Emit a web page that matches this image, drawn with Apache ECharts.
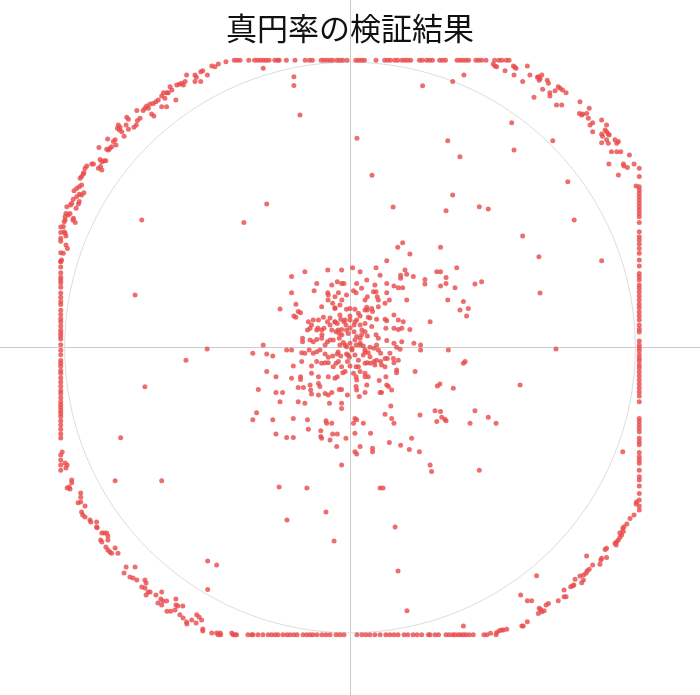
<!DOCTYPE html>
<html><head><meta charset="utf-8">
<script src="https://cdn.jsdelivr.net/npm/echarts@6/dist/echarts.min.js"></script>
<style>html,body{margin:0;padding:0;background:#fff}#c{width:700px;height:695px}</style>
</head><body><div id="c"></div>
<script>
const titleText = '真円率の検証結果';
const axisLimit = 1.21;
const circleRadius = 0.99;

// points clipped on the top edge (y = 1)
const topEdgeX = [-0.40,-0.39,-0.38,-0.35,-0.33,-0.32,-0.31,-0.30,-0.29,-0.28,-0.26,-0.25,-0.245,-0.22,-0.19,-0.155,-0.14,-0.13,-0.10,-0.09,-0.08,-0.07,-0.06,-0.045,-0.035,-0.025,-0.01,0.02,0.03,0.04,0.05,0.09,0.12,0.13,0.14,0.155,0.165,0.18,0.19,0.20,0.21,0.24,0.25,0.265,0.275,0.285,0.31,0.32,0.33,0.37,0.38,0.39,0.40,0.41,0.435,0.445,0.455,0.47,0.50,0.515,0.525,0.54,0.55];
// points clipped on the bottom edge (y = -1)
const bottomEdgeX = [-0.353,-0.340,-0.335,-0.318,-0.301,-0.283,-0.271,-0.259,-0.249,-0.232,-0.218,-0.207,-0.194,-0.183,-0.162,-0.149,-0.138,-0.128,-0.114,-0.097,-0.083,-0.069,-0.048,-0.035,-0.021,0.024,0.041,0.055,0.069,0.086,0.104,0.124,0.138,0.152,0.166,0.187,0.2,0.218,0.232,0.248,0.271,0.277,0.294,0.306,0.332,0.343,0.355,0.363,0.374,0.383,0.392,0.401,0.412,0.426,0.463,0.505];
// points clipped on the left edge (x = -1)
const leftEdgeY = [0.42,0.40,0.38,0.37,0.33,0.30,0.28,0.26,0.245,0.235,0.225,0.21,0.19,0.175,0.16,0.15,0.13,0.115,0.10,0.09,0.075,0.06,0.05,0.04,0.03,0.01,-0.01,-0.025,-0.045,-0.055,-0.065,-0.08,-0.09,-0.105,-0.12,-0.135,-0.15,-0.16,-0.175,-0.19,-0.20,-0.21,-0.22,-0.23,-0.24,-0.255,-0.27,-0.285,-0.30,-0.315,-0.374,-0.392,-0.409,-0.427,0.299];
// points clipped on the right edge (x = 1)
const rightEdgeY = [0.624,0.595,0.560,0.548,0.537,0.525,0.514,0.502,0.490,0.479,0.467,0.455,0.435,0.403,0.386,0.374,0.360,0.345,0.328,0.305,0.284,0.258,0.246,0.235,0.218,0.206,0.193,0.179,0.165,0.151,0.138,0.124,0.110,0.096,0.078,0.064,0.054,0.023,0.009,-0.002,-0.012,-0.026,-0.037,-0.047,-0.061,-0.071,-0.085,-0.099,-0.113,-0.127,-0.141,-0.155,-0.169,-0.189,-0.247,-0.258,-0.270,-0.281,-0.293,-0.316,-0.328,-0.339,-0.366,-0.380,-0.392,-0.403,-0.427,-0.450,-0.461,-0.482,-0.508,-0.531,-0.566,-0.552];

const topLeftArc = [[-0.300,0.972],[-0.429,0.995],[-0.455,0.987],[-0.467,0.978],[-0.478,0.980],[-0.493,0.949],[-0.509,0.964],[-0.516,0.960],[-0.536,0.949],[-0.531,0.941],[-0.565,0.949],[-0.536,0.926],[-0.516,0.926],[-0.570,0.926],[-0.576,0.914],[-0.582,0.920],[-0.590,0.917],[-0.599,0.914],[-0.622,0.908],[-0.616,0.897],[-0.628,0.887],[-0.645,0.887],[-0.634,0.887],[-0.651,0.876],[-0.640,0.868],[-0.602,0.862],[-0.651,0.838],[-0.634,0.838],[-0.663,0.862],[-0.671,0.856],[-0.680,0.850],[-0.691,0.848],[-0.703,0.841],[-0.697,0.833],[-0.709,0.833],[-0.686,0.813],[-0.678,0.806],[-0.715,0.825],[-0.737,0.825],[-0.726,0.798],[-0.735,0.790],[-0.739,0.775],[-0.747,0.767],[-0.772,0.802],[-0.766,0.795],[-0.774,0.775],[-0.801,0.775],[-0.804,0.763],[-0.797,0.757],[-0.789,0.751],[-0.795,0.767],[-0.781,0.736],[-0.766,0.760],[-0.812,0.723],[-0.818,0.717],[-0.809,0.705],[-0.824,0.699],[-0.830,0.694],[-0.835,0.688],[-0.841,0.690],[-0.838,0.726],[-0.868,0.696],[-0.864,0.655],[-0.858,0.647],[-0.850,0.650],[-0.844,0.650],[-0.870,0.624],[-0.862,0.630],[-0.858,0.618],[-0.887,0.639],[-0.893,0.639],[-0.910,0.632],[-0.916,0.624],[-0.922,0.604],[-0.928,0.595],[-0.933,0.589],[-0.920,0.609],[-0.928,0.566],[-0.936,0.560],[-0.945,0.554],[-0.954,0.546],[-0.920,0.539],[-0.928,0.531],[-0.936,0.534],[-0.945,0.525],[-0.957,0.516],[-0.962,0.502],[-0.966,0.496],[-0.936,0.508],[-0.939,0.500],[-0.947,0.485],[-0.979,0.490],[-0.968,0.467],[-0.974,0.461],[-0.958,0.444],[-0.950,0.435],[-0.956,0.450],[-0.985,0.455],[-0.988,0.438],[-0.985,0.444],[-0.982,0.467],[-0.991,0.421],[-0.988,0.403],[-0.985,0.398],[-0.982,0.388],[-0.982,0.357],[-0.977,0.345],[-0.991,0.328],[-0.997,0.305]];

const topRightArc = [[0.495,0.987],[0.501,0.980],[0.507,0.978],[0.536,0.964],[0.565,0.980],[0.570,0.976],[0.574,0.972],[0.613,0.980],[0.567,0.949],[0.622,0.949],[0.597,0.926],[0.651,0.943],[0.657,0.937],[0.663,0.949],[0.654,0.931],[0.648,0.941],[0.682,0.931],[0.686,0.920],[0.666,0.899],[0.691,0.887],[0.691,0.876],[0.709,0.894],[0.720,0.908],[0.726,0.903],[0.735,0.897],[0.747,0.887],[0.636,0.871],[0.714,0.844],[0.732,0.844],[0.795,0.856],[0.793,0.815],[0.801,0.810],[0.804,0.813],[0.818,0.815],[0.827,0.833],[0.824,0.798],[0.839,0.783],[0.830,0.775],[0.839,0.751],[0.870,0.792],[0.887,0.775],[0.870,0.743],[0.873,0.736],[0.882,0.757],[0.887,0.751],[0.893,0.743],[0.896,0.740],[0.870,0.713],[0.887,0.723],[0.893,0.711],[0.916,0.723],[0.922,0.711],[0.928,0.717],[0.904,0.682],[0.922,0.682],[0.936,0.682],[0.966,0.670],[0.895,0.639],[0.945,0.639],[0.947,0.632],[0.959,0.627],[0.928,0.601],[0.982,0.639],[0.989,0.562]];

const bottomLeftArc = [[-0.995,-0.364],[-0.985,-0.402],[-0.978,-0.409],[-0.982,-0.420],[-0.962,-0.461],[-0.962,-0.471],[-0.978,-0.489],[-0.968,-0.493],[-0.971,-0.486],[-0.931,-0.507],[-0.931,-0.521],[-0.940,-0.541],[-0.931,-0.538],[-0.916,-0.552],[-0.928,-0.573],[-0.924,-0.583],[-0.916,-0.590],[-0.899,-0.601],[-0.896,-0.608],[-0.876,-0.608],[-0.876,-0.625],[-0.874,-0.628],[-0.858,-0.646],[-0.850,-0.646],[-0.841,-0.646],[-0.837,-0.656],[-0.862,-0.670],[-0.858,-0.677],[-0.837,-0.670],[-0.844,-0.695],[-0.837,-0.705],[-0.830,-0.712],[-0.824,-0.716],[-0.812,-0.698],[-0.802,-0.716],[-0.774,-0.764],[-0.743,-0.764],[-0.781,-0.785],[-0.761,-0.799],[-0.750,-0.803],[-0.737,-0.810],[-0.709,-0.810],[-0.705,-0.820],[-0.720,-0.834],[-0.709,-0.837],[-0.698,-0.851],[-0.691,-0.851],[-0.705,-0.862],[-0.671,-0.862],[-0.651,-0.851],[-0.654,-0.876],[-0.647,-0.883],[-0.634,-0.883],[-0.664,-0.890],[-0.651,-0.897],[-0.602,-0.876],[-0.602,-0.897],[-0.595,-0.900],[-0.578,-0.900],[-0.633,-0.918],[-0.620,-0.918],[-0.605,-0.914],[-0.588,-0.931],[-0.577,-0.942],[-0.565,-0.956],[-0.564,-0.963],[-0.547,-0.949],[-0.532,-0.959],[-0.530,-0.931],[-0.522,-0.938],[-0.513,-0.949],[-0.509,-0.980],[-0.509,-0.987],[-0.478,-0.994],[-0.461,-0.994],[-0.456,-1],[-0.447,-1],[-0.449,-0.994],[-0.409,-0.994],[-0.404,-1],[-0.398,-1],[-0.392,-1]];

const bottomRightArc = [[0.473,-1],[0.486,-0.995],[0.507,-0.992],[0.516,-0.986],[0.524,-0.984],[0.530,-0.984],[0.542,-0.981],[0.594,-0.970],[0.599,-0.970],[0.613,-0.955],[0.651,-0.926],[0.654,-0.908],[0.663,-0.920],[0.671,-0.917],[0.678,-0.897],[0.686,-0.891],[0.659,-0.912],[0.613,-0.882],[0.628,-0.882],[0.590,-0.862],[0.720,-0.882],[0.740,-0.868],[0.747,-0.868],[0.740,-0.844],[0.763,-0.833],[0.770,-0.830],[0.774,-0.827],[0.778,-0.807],[0.801,-0.819],[0.795,-0.796],[0.807,-0.792],[0.816,-0.786],[0.820,-0.777],[0.827,-0.772],[0.807,-0.810],[0.818,-0.726],[0.839,-0.757],[0.864,-0.755],[0.867,-0.740],[0.870,-0.734],[0.887,-0.731],[0.882,-0.703],[0.887,-0.699],[0.916,-0.682],[0.922,-0.676],[0.928,-0.670],[0.933,-0.661],[0.939,-0.653],[0.945,-0.641],[0.933,-0.645],[0.943,-0.630],[0.947,-0.624],[0.920,-0.688],[0.957,-0.615],[0.968,-0.595],[0.982,-0.583],[0.989,-0.545],[0.991,-0.537]];

const scatteredPoints = [[-0.793,-0.314],[-0.812,-0.464],[-0.651,-0.464],[-0.492,-0.743],[-0.461,-0.757],[-0.492,-0.843],[-0.245,-0.486],[0.645,-0.795],[0.943,-0.363],[0.392,-0.970],[0.432,-0.220],[0.478,-0.243],[0.505,-0.264],[0.282,-0.432],[0.447,-0.427],[0.251,0.911],[0.355,0.926],[0.394,0.949],[0.559,0.783],[0.701,0.720],[0.567,0.688],[0.338,0.720],[0.380,0.664],[0.355,0.531],[0.332,0.476],[0.447,0.490],[0.478,0.482],[0.753,0.577],[0.775,0.444],[0.597,0.388],[0.653,0.316],[0.870,0.302],[0.432,0.221],[0.455,0.229],[-0.720,0.444],[-0.367,0.435],[-0.288,0.500],[-0.194,0.943],[-0.194,0.912],[-0.743,0.183],[-0.567,-0.044],[-0.494,-0.005],[-0.709,-0.137],[-0.173,0.810],[0.024,0.729],[0.076,0.600],[0.149,0.489],[-0.149,-0.489],[-0.218,-0.601],[-0.083,-0.573],[-0.055,-0.674],[0.104,-0.489],[0.114,-0.489],[0.156,-0.625],[0.166,-0.778],[0.197,-0.917],[0.657,0.190],[0.712,-0.005],[0.588,-0.131]];

const centerCluster = [[0.182,0.365],[0.165,0.349],[0.207,0.326],[0.313,0.349],[0.127,0.302],[-0.202,0.247],[-0.156,0.264],[-0.077,0.270],[-0.029,0.270],[0.009,0.278],[0.035,0.264],[0.090,0.278],[0.104,0.252],[0.190,0.270],[0.175,0.252],[0.196,0.255],[0.219,0.247],[0.300,0.264],[0.313,0.264],[0.369,0.278],
[-0.115,0.223],[-0.063,0.218],[-0.044,0.229],[-0.029,0.223],[-0.021,0.223],[0.023,0.223],[0.058,0.235],[0.086,0.218],[0.127,0.223],[0.152,0.214],[0.167,0.208],[0.182,0.208],[0.175,0.241],[0.259,0.237],[0.259,0.221],[0.332,0.244],[0.332,0.223],[0.313,0.214],[0.363,0.208],
[-0.202,0.191],[-0.124,0.198],[-0.077,0.191],[-0.075,0.183],[-0.052,0.177],[-0.040,0.191],[-0.012,0.183],[0.012,0.198],[0.021,0.191],[0.040,0.206],[0.052,0.165],[0.060,0.177],[0.081,0.194],[0.090,0.194],[0.094,0.177],[0.098,0.165],[0.127,0.191],[0.136,0.165],[0.196,0.165],[0.338,0.165],[0.392,0.160],
[-0.187,0.151],[-0.242,0.134],[-0.194,0.110],[-0.187,0.105],[-0.179,0.125],[-0.171,0.121],[-0.098,0.142],[-0.060,0.154],[-0.052,0.136],[-0.035,0.148],[-0.012,0.133],[0,0.136],[0.017,0.133],[0.029,0.119],[0,0.110],[0.035,0.110],[0.058,0.140],[0.060,0.131],[0.075,0.136],[0.078,0.125],[0.098,0.142],[0.121,0.154],[0.152,0.113],[0.167,0.096],[0.184,0.090],[0.277,0.090],[0.380,0.131],[0.403,0.110],[0.409,0.136],
[-0.144,0.090],[-0.127,0.096],[-0.133,0.078],[-0.109,0.096],[-0.092,0.105],[-0.078,0.090],[-0.069,0.078],[-0.052,0.090],[-0.044,0.084],[-0.032,0.098],[-0.021,0.090],[-0.014,0.078],[0,0.096],[0.014,0.078],[0.023,0.096],[0.035,0.078],[0.052,0.084],[0.063,0.105],[0.075,0.073],[0.092,0.098],[0.121,0.098],[0.127,0.093],[0.124,0.067],[0.152,0.067],[0.167,0.063],[0.179,0.067],[0.207,0.063],
[-0.147,0.061],[-0.138,0.067],[-0.115,0.061],[-0.098,0.061],[-0.090,0.067],[-0.063,0.061],[-0.048,0.055],[-0.037,0.049],[-0.029,0.063],[-0.012,0.061],[-0.006,0.049],[0.014,0.055],[0.023,0.038],[0.035,0.032],[0.040,0.044],[0.052,0.055],[0.060,0.040],[0.090,0.044],[0.098,0.032],[0.127,0.024],[0.152,0.015],[0.179,0.020],[0.221,0.015],[0.244,0.009],
[-0.164,0.032],[-0.164,0.020],[-0.138,0.026],[-0.127,0.020],[-0.115,0.028],[-0.098,0.032],[-0.078,0.020],[-0.058,0.026],[-0.037,0.032],[-0.035,0.009],[-0.023,0.017],[-0.012,0.003],[0,0.015],[0.006,-0.003],[0.021,0.009],[0.035,0.015],[0.046,0.005],[0.052,-0.009],[0.063,-0.018],[0.069,0.001],[0.083,-0.003],[0.092,0.009],[0.098,-0.009],[0.106,-0.020],[0.138,-0.020],[0.161,0.001],[0.173,-0.006],[0.244,-0.009],[0.340,-0.009],
[-0.300,0.009],[-0.219,-0.009],[-0.202,-0.009],[-0.167,-0.018],[-0.156,-0.020],[-0.141,-0.009],[-0.127,-0.020],[-0.115,-0.015],[-0.104,-0.009],[-0.086,-0.023],[-0.075,-0.034],[-0.060,-0.030],[-0.044,-0.023],[-0.032,-0.030],[-0.012,-0.023],[-0.002,-0.034],[0.017,-0.026],[0.029,-0.044],[0.046,-0.026],[0.069,-0.032],[0.083,-0.049],[0.092,-0.044],[0.106,-0.049],[0.121,-0.038],[0.129,-0.038],[0.150,-0.038],[0.167,-0.044],[-0.336,-0.020],[-0.288,-0.023],[-0.267,-0.030],
[-0.167,-0.049],[-0.196,-0.064],[-0.133,-0.064],[-0.115,-0.049],[-0.098,-0.055],[-0.086,-0.053],[-0.075,-0.053],[-0.058,-0.067],[-0.048,-0.055],[-0.040,-0.049],[-0.029,-0.067],[-0.009,-0.049],[0,-0.064],[0.021,-0.067],[0.029,-0.067],[0.052,-0.055],[0.060,-0.053],[0.071,-0.055],[0.086,-0.061],[0.109,-0.061],[0.121,-0.067],[0.152,-0.053],[0.161,-0.078],[0.161,-0.088],[0.225,-0.084],[0.398,-0.049],[0.392,-0.055],
[-0.288,-0.084],[-0.256,-0.102],[-0.202,-0.107],[-0.171,-0.102],[-0.171,-0.111],[-0.133,-0.090],[-0.109,-0.102],[-0.075,-0.102],[-0.052,-0.107],[-0.044,-0.102],[-0.025,-0.088],[-0.017,-0.084],[0.012,-0.090],[0.021,-0.102],[0.023,-0.113],[0.035,-0.084],[0.052,-0.090],[0.052,-0.102],[0.063,-0.102],[0.101,-0.115],[0.124,-0.102],
[-0.317,-0.146],[-0.256,-0.157],[-0.233,-0.157],[-0.179,-0.139],[-0.161,-0.139],[-0.138,-0.131],[-0.136,-0.148],[-0.133,-0.162],[-0.109,-0.125],[-0.104,-0.136],[-0.109,-0.165],[-0.086,-0.160],[-0.075,-0.165],[-0.063,-0.157],[-0.037,-0.146],[-0.029,-0.146],[-0.009,-0.165],[0.021,-0.136],[0.023,-0.148],[0.052,-0.157],[0.032,-0.171],[0.058,-0.131],[0.104,-0.157],[0.109,-0.157],[0.127,-0.131],[0.133,-0.136],[0.144,-0.148],[0.302,-0.134],[0.311,-0.127],[0.357,-0.142],
[-0.242,-0.189],[-0.179,-0.189],[-0.156,-0.194],[-0.071,-0.194],[-0.029,-0.194],[-0.029,-0.212],[0.141,-0.204],[0.294,-0.220],
[-0.323,-0.227],[-0.336,-0.252],[-0.267,-0.252],[-0.196,-0.247],[-0.147,-0.252],[-0.083,-0.255],[-0.081,-0.264],[-0.063,-0.264],[0.017,-0.247],[0.023,-0.252],[0.012,-0.264],[0.046,-0.264],[0.121,-0.232],[0.144,-0.247],[0.152,-0.264],[0.242,-0.235],[0.300,-0.258],[0.317,-0.243],[0.328,-0.250],[0.332,-0.255],[0.313,-0.223],[0.415,-0.264],
[-0.256,-0.301],[-0.219,-0.313],[-0.196,-0.313],[-0.144,-0.285],[-0.101,-0.290],[-0.101,-0.310],[-0.098,-0.316],[-0.069,-0.322],[-0.060,-0.301],[-0.044,-0.301],[-0.014,-0.316],[0.017,-0.299],[0.071,-0.299],[0.136,-0.331],[0.213,-0.316],
[0.175,-0.340],[0.205,-0.355],[0.240,-0.363],[-0.046,-0.345],[0.017,-0.363],[0.023,-0.371],[0.035,-0.345],[0.078,-0.351],[0.078,-0.363],[-0.029,-0.409],[0.277,-0.409],
[-0.069,0.103],[-0.052,0.089],[-0.035,0.113],[-0.017,0.096],[-0.041,0.061],[-0.028,0.044],[0,0.068],[0.017,0.026],[-0.069,0.026],[-0.086,0.009],[-0.017,0.009],[0.007,-0.009],[0.035,0.009],[0.052,-0.016],[-0.007,-0.026],[-0.041,-0.016],[-0.097,0.044],[-0.111,0.068],[0.017,0.089],[0.041,0.061],[0.069,0.103],[0.052,0.131],[-0.052,0.138],[-0.076,0.165],[-0.028,0.165]];

const allPoints = []
  .concat(topEdgeX.map(x => [x, 1]))
  .concat(bottomEdgeX.map(x => [x, -1]))
  .concat(leftEdgeY.map(y => [-1, y]))
  .concat(rightEdgeY.map(y => [1, y]))
  .concat(topLeftArc, topRightArc, bottomLeftArc, bottomRightArc, scatteredPoints, centerCluster);

const chart = echarts.init(document.getElementById('c'), null, {renderer: 'canvas'});
const axisCommon = {
  type: 'value', min: -axisLimit, max: axisLimit,
  axisLine: {show: true, onZero: true, lineStyle: {color: '#cccccc', width: 1}},
  axisTick: {show: false}, axisLabel: {show: false}, splitLine: {show: false}
};
chart.setOption({
  animation: false,
  backgroundColor: '#ffffff',
  title: {
    text: titleText, left: 'center', top: 8,
    textStyle: {fontSize: 31, fontWeight: 'normal', color: '#111111', fontFamily: 'Noto Sans CJK JP'}
  },
  grid: {left: 0, right: 0, top: 0, bottom: 0},
  xAxis: axisCommon,
  yAxis: axisCommon,
  series: [
    {
      type: 'custom',
      silent: true,
      z: 1,
      data: [[0, 0, circleRadius]],
      renderItem: function (params, api) {
        const c = api.coord([api.value(0), api.value(1)]);
        const s = api.size([api.value(2), api.value(2)]);
        return {
          type: 'circle',
          shape: {cx: c[0], cy: c[1], r: (s[0] + s[1]) / 2},
          style: {fill: 'none', stroke: '#dddddd', lineWidth: 1}
        };
      }
    },
    {
      type: 'scatter',
      z: 3,
      symbol: 'circle',
      symbolSize: 5,
      itemStyle: {color: '#e84a4a'},
      data: allPoints
    }
  ]
});
</script>
</body></html>
